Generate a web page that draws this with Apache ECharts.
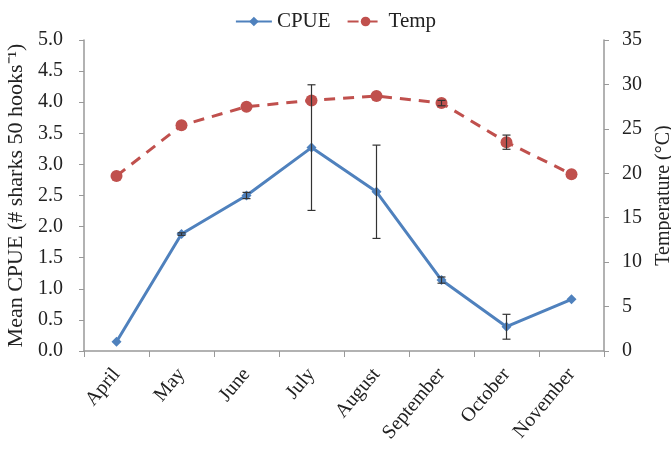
<!DOCTYPE html>
<html><head><meta charset="utf-8">
<script src="https://cdn.jsdelivr.net/npm/echarts@6/dist/echarts.min.js"></script>
<style>html,body{margin:0;padding:0;background:#fff}#c{width:671px;height:455px}</style>
</head><body><div id="c"></div>
<script>
const months = ['April','May','June','July','August','September','October','November'];
const cpue = [0.15, 1.88, 2.50, 3.27, 2.56, 1.14, 0.39, 0.83];
const cpueErr = [0, 0.02, 0.05, 1.01, 0.75, 0.05, 0.20, 0];
const temp = [19.7, 25.4, 27.5, 28.2, 28.7, 27.9, 23.5, 19.9];
const tempErr = [0, 0, 0, 0, 0, 0.3, 0.8, 0];
const leftTicks = [0,0.5,1,1.5,2,2.5,3,3.5,4,4.5,5];
const rightTicks = [0,5,10,15,20,25,30,35];

const font = 'Liberation Serif';
const blue = '#4F81BD', red = '#C0504D';

function errSeries(vals, errs, axisIdx, name) {
  return {
    type: 'custom', name: name, yAxisIndex: axisIdx, z: 5, silent: true,
    data: vals.map((v, i) => [i, v, errs[i]]),
    renderItem: function (params, api) {
      const i = api.value(0), v = api.value(1), e = api.value(2);
      if (!e) return null;
      const top = api.coord([i, v + e]);
      const bot = api.coord([i, v - e]);
      const w = 4;
      const st = { stroke: '#333', lineWidth: 1.2 };
      return { type: 'group', children: [
        { type: 'line', shape: { x1: top[0], y1: top[1], x2: bot[0], y2: bot[1] }, style: st },
        { type: 'line', shape: { x1: top[0]-w, y1: top[1], x2: top[0]+w, y2: top[1] }, style: st },
        { type: 'line', shape: { x1: bot[0]-w, y1: bot[1], x2: bot[0]+w, y2: bot[1] }, style: st }
      ]};
    }
  };
}

const chart = echarts.init(document.getElementById('c'));
chart.setOption({
  animation: false,
  textStyle: { fontFamily: font, color: '#222' },
  legend: {
    top: 6, left: 'center', itemWidth: 36, itemHeight: 12, itemGap: 16,
    textStyle: { fontFamily: font, fontSize: 21, color: '#222' },
    data: ['CPUE', 'Temp']
  },
  grid: { left: 84, right: 67, top: 40, bottom: 104, containLabel: false, outerBoundsMode: 'none' },
  xAxis: {
    type: 'category', data: months, boundaryGap: true,
    axisLine: { lineStyle: { color: '#999', width: 1.5 } },
    axisTick: { show: true, length: 6, lineStyle: { color: '#999' } },
    axisLabel: { rotate: 50, fontFamily: font, fontSize: 20, color: '#222', margin: 20, interval: 0 }
  },
  yAxis: [
    {
      type: 'value', min: 0, max: 5, interval: 0.5,
      name: 'Mean CPUE (# sharks 50 hooks\u207B\u00B9)', nameLocation: 'middle', nameGap: 56, nameRotate: 90,
      nameTextStyle: { fontFamily: font, fontSize: 22, color: '#222' },
      axisLine: { show: true, lineStyle: { color: '#999', width: 1.5 } },
      axisTick: { show: true, length: 5, lineStyle: { color: '#999' } },
      splitLine: { show: false },
      axisLabel: { fontFamily: font, fontSize: 20, color: '#222', margin: 21, formatter: v => v.toFixed(1) }
    },
    {
      type: 'value', min: 0, max: 35, interval: 5, position: 'right',
      name: 'Temperature (\u00B0C)', nameLocation: 'middle', nameGap: 50, nameRotate: 90,
      nameTextStyle: { fontFamily: font, fontSize: 20, color: '#222' },
      axisLine: { show: true, lineStyle: { color: '#999', width: 1.5 } },
      axisTick: { show: true, length: 5, lineStyle: { color: '#999' } },
      splitLine: { show: false },
      axisLabel: { fontFamily: font, fontSize: 20, color: '#222', margin: 18 }
    }
  ],
  series: [
    {
      name: 'CPUE', type: 'line', yAxisIndex: 0, data: cpue, z: 3,
      symbol: 'diamond', symbolSize: 10,
      lineStyle: { color: blue, width: 3 }, itemStyle: { color: blue }
    },
    {
      name: 'Temp', type: 'line', yAxisIndex: 1, data: temp, z: 3,
      symbol: 'circle', symbolSize: 12,
      lineStyle: { color: red, width: 3, type: [11, 8] }, itemStyle: { color: red }
    },
    errSeries(cpue, cpueErr, 0, 'cpueErr'),
    errSeries(temp, tempErr, 1, 'tempErr')
  ]
});
</script></body></html>
